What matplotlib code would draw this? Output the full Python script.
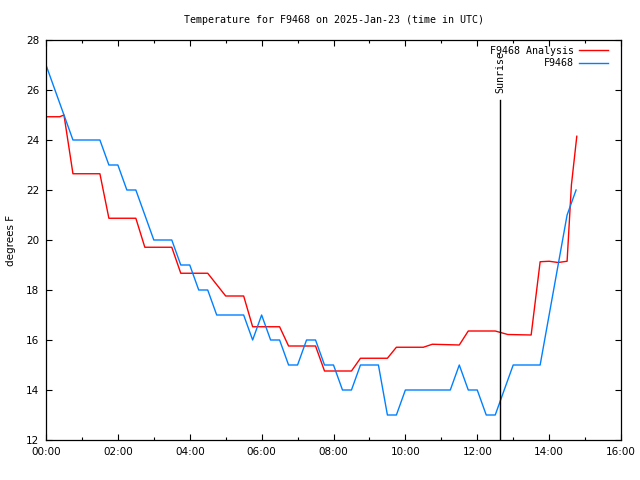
import matplotlib
matplotlib.use("Agg")
import matplotlib.pyplot as plt
from matplotlib.ticker import MultipleLocator, FuncFormatter

# time in hours UTC, temperature in degrees F
obs_hours = [0.0, 0.25, 0.5, 0.75, 1.0, 1.25, 1.5, 1.75, 2.0, 2.25, 2.5, 2.75, 3.0,
             3.25, 3.5, 3.75, 4.0, 4.25, 4.5, 4.75, 5.0, 5.25, 5.5, 5.75, 6.0, 6.25,
             6.5, 6.75, 7.0, 7.25, 7.5, 7.75, 8.0, 8.25, 8.5, 8.75, 9.0, 9.25, 9.5,
             9.75, 10.0, 10.25, 10.5, 10.75, 11.0, 11.25, 11.5, 11.75, 12.0, 12.25,
             12.5, 12.75, 13.0, 13.25, 13.5, 13.75, 14.0, 14.25, 14.5, 14.75]
obs_temp = [27, 26, 25, 24, 24, 24, 24, 23, 23, 22, 22, 21, 20,
            20, 20, 19, 19, 18, 18, 17, 17, 17, 17, 16, 17, 16,
            16, 15, 15, 16, 16, 15, 15, 14, 14, 15, 15, 15, 13,
            13, 14, 14, 14, 14, 14, 14, 15, 14, 14, 13,
            13, 14, 15, 15, 15, 15, 17, 19, 21, 22]

ana_hours = [0.0, 0.38, 0.5, 0.75, 1.5, 1.75, 2.5, 2.75, 3.5, 3.75, 4.5, 5.0, 5.5,
             5.75, 6.5, 6.75, 7.5, 7.75, 8.5, 8.75, 9.5, 9.75, 10.5, 10.75, 11.5,
             11.75, 12.5, 12.85, 13.5, 13.75, 14.0, 14.25, 14.5, 14.62, 14.77]
ana_temp = [24.93, 24.93, 25.0, 22.65, 22.65, 20.87, 20.87, 19.71, 19.71, 18.67,
            18.67, 17.76, 17.76, 16.53, 16.53, 15.76, 15.76, 14.76, 14.76, 15.27,
            15.27, 15.71, 15.71, 15.83, 15.8, 16.36, 16.36, 16.22, 16.2, 19.13,
            19.15, 19.1, 19.15, 22.2, 24.15]

sunrise = 12.63
station = "F9468"

mono = "DejaVu Sans Mono"

fig = plt.figure(figsize=(6.4, 4.8), dpi=100)
ax = fig.add_axes([46 / 640, 40 / 480, 575 / 640, 400 / 480])

ax.plot(ana_hours, ana_temp, color="#ff0000", lw=1, label=station + " Analysis")
ax.plot(obs_hours, obs_temp, color="#0080ff", lw=1, label=station)

ax.plot([sunrise, sunrise], [12, 25.6], color="k", lw=1)
ax.text(sunrise, 25.9, "Sunrise", rotation=90, ha="center", va="bottom",
        fontsize=7.2, family=mono)

ax.set_xlim(0, 16)
ax.set_ylim(12, 28)
ax.xaxis.set_major_locator(MultipleLocator(2))
ax.xaxis.set_minor_locator(MultipleLocator(1))
ax.yaxis.set_major_locator(MultipleLocator(2))
ax.xaxis.set_major_formatter(FuncFormatter(lambda v, p: "%02d:00" % int(round(v))))
ax.tick_params(which="both", direction="in", top=True, right=True, labelsize=7.5, width=0.8)
ax.tick_params(which="major", length=4.5, pad=5)
ax.tick_params(which="minor", length=2)
for s in ax.spines.values():
    s.set_linewidth(0.9)

fig.text(11 / 640, 0.5, "degrees F", rotation=90, ha="center", va="center", fontsize=7.5)
# gnuplot centres the title over the plot area
fig.text(333.5 / 640, 1 - 20 / 480, "Temperature for %s on 2025-Jan-23 (time in UTC)" % station,
         ha="center", va="center", fontsize=7.2, family=mono)

leg = ax.legend(loc="upper right", frameon=False, markerfirst=False,
                prop={"family": mono, "size": 7.2}, handlelength=2.9,
                handletextpad=0.5, labelspacing=0.25, borderaxespad=0.2,
                bbox_to_anchor=(1.0 - 7 / 575, 1.0))

fig.savefig("out.png", dpi=100)
